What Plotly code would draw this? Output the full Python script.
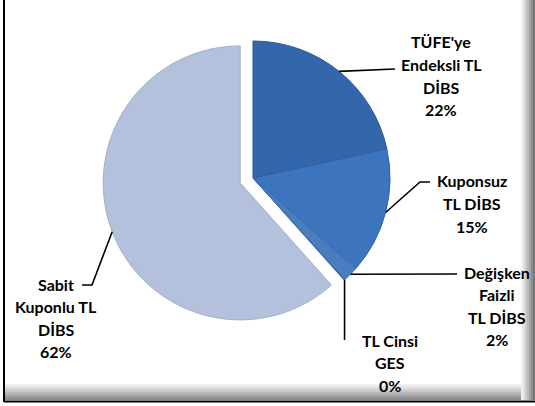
import math
import plotly.graph_objects as go

# ---- data ----
categories = ["TÜFE'ye Endeksli TL DİBS", "Kuponsuz TL DİBS", "Değişken Faizli TL DİBS",
              "TL Cinsi GES", "Sabit Kuponlu TL DİBS"]
values = [21.6, 14.9, 1.8, 0.1, 61.6]
label_lines = [["TÜFE'ye", "Endeksli TL", "DİBS"],
               ["Kuponsuz", "TL DİBS"],
               ["Değişken", "Faizli", "TL DİBS"],
               ["TL Cinsi", "GES"],
               ["Sabit", "Kuponlu TL", "DİBS"]]
pulls = [0, 0, 0, 0, 0.1]

colors = ["#3366AA", "#3C74BE", "#4A7DBE", "#4A7DBE", "#B3C1DD"]
edge_colors = ["#2A5690", "#2F62A6", "#3A6CAF", "#3A6CAF", "#A3B0CC"]

W, H = 535, 406
def px(x): return x / W
def py(y): return 1 - y / H

# pie geometry (pixels)
CX, CY, R = 253, 178, 137
maxpull = max(pulls)
half = R * (1 + maxpull)
dom_y = [py(CY + half), py(CY - half)]
dom_x = [px(CX - 165), px(CX + 165)]

fig = go.Figure(go.Pie(
    labels=categories, values=values, sort=False, direction="clockwise", rotation=0,
    pull=pulls, textinfo="none", hoverinfo="label+percent",
    marker=dict(colors=colors, line=dict(color=edge_colors, width=1)),
    domain=dict(x=dom_x, y=dom_y), showlegend=False,
))

# label layout (pixels): center x, first line y, leader waypoints
label_pos = [(441, 42), (472, 181), (497, 272), (390, 340), (56, 284)]
waypoints = [[(395, 69)],
             [(420, 182), (430, 182)],
             [(457, 274)],
             [(None, 340)],
             [(92, 285), (82, 285)]]
step = 22.6

total = sum(values)
cum = 0
annotations = []
shapes = []
for i, v in enumerate(values):
    a0 = cum / total * 360
    cum += v
    a1 = cum / total * 360
    mid = math.radians((a0 + a1) / 2)
    rr = R * (1 + pulls[i])
    ax = CX + rr * math.sin(mid)
    ay = CY - rr * math.cos(mid)
    pts = [(ax, ay)] + [((ax if x is None else x), y) for x, y in waypoints[i]]
    path = "M " + " L ".join(f"{px(x):.5f},{py(y):.5f}" for x, y in pts)
    shapes.append(dict(type="path", path=path, xref="paper", yref="paper",
                       line=dict(color="black", width=1.6)))
    pct = f"{v / total * 100:.0f}%"
    lines = label_lines[i] + [pct]
    cx, y0 = label_pos[i]
    for k, t in enumerate(lines):
        annotations.append(dict(text=t, x=px(cx), y=py(y0 + k * step), xref="paper", yref="paper",
                                showarrow=False, xanchor="center", yanchor="middle",
                                font=dict(family="Lato", size=16, color="black", weight="bold")))

# frame: shadow gradient at bottom and right, black edges
bottom_grays = [240, 228, 215, 200, 185, 170, 155, 140]
for k, g in enumerate(bottom_grays):
    y_a = 384 + k * 2
    shapes.append(dict(type="rect", xref="paper", yref="paper", x0=px(4), x1=1,
                       y0=py(y_a + 2), y1=py(y_a), fillcolor=f"rgb({g},{g},{g})",
                       line=dict(width=0), layer="above"))
right_grays = [240, 225, 205, 185, 165, 140, 120]
for k, g in enumerate(right_grays):
    x_a = 521 + k * 2
    shapes.append(dict(type="rect", xref="paper", yref="paper", x0=px(x_a), x1=px(x_a + 2),
                       y0=py(400), y1=1, fillcolor=f"rgb({g},{g},{g})",
                       line=dict(width=0), layer="above"))
shapes.append(dict(type="line", xref="paper", yref="paper", x0=px(4), x1=px(4), y0=py(0), y1=py(402),
                   line=dict(color="black", width=2)))
shapes.append(dict(type="line", xref="paper", yref="paper", x0=px(4), x1=1, y0=py(401.5), y1=py(401.5),
                   line=dict(color="black", width=2)))

fig.update_layout(width=W, height=H, margin=dict(l=0, r=0, t=0, b=0),
                  paper_bgcolor="white", plot_bgcolor="white",
                  annotations=annotations, shapes=shapes)
fig.write_html("out.html", config={"displayModeBar": False},
               post_script="document.body.style.margin='0';document.body.style.overflow='hidden';")
